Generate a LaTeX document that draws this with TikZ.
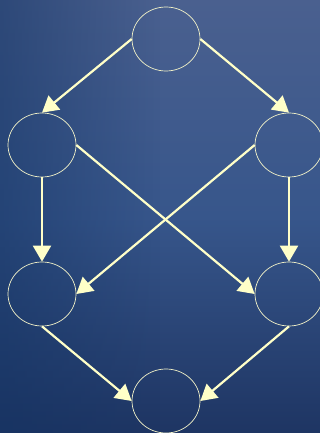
\documentclass[tikz,border=0pt]{standalone}
\usetikzlibrary{shapes.geometric,arrows.meta,fadings}
\definecolor{bgtop}{HTML}{4A608F}
\definecolor{bgmid}{HTML}{37568B}
\definecolor{bgbot}{HTML}{1E3563}
\definecolor{bgdark}{HTML}{123262}
\definecolor{pale}{HTML}{FFFFC8}
\definecolor{ring}{HTML}{F2F2C8}
\tikzfading[name=fadeleft, left color=transparent!50, right color=transparent!100]
\tikzset{
  circ/.style={ellipse, draw=ring, line width=0.7pt, minimum width=68pt, minimum height=64pt, inner sep=0pt},
  conn/.style={draw=pale, line width=2.2pt, -{Triangle[length=16pt,width=18pt,fill=pale]}}
}
\begin{document}
\begin{tikzpicture}[x=1pt,y=-1pt]
\shade[top color=bgtop, bottom color=bgbot, middle color=bgmid] (0,0) rectangle (320,433);
\fill[bgdark, path fading=fadeleft] (0,0) rectangle (160,433);
\useasboundingbox (0,0) rectangle (320,433);
\node[circ] (t) at (166,39) {};
\node[circ] (l) at (42,145) {};
\node[circ] (r) at (289,145) {};
\node[circ] (ll) at (42,294) {};
\node[circ] (lr) at (289,294) {};
\node[circ] (b) at (166,401) {};
\draw[conn] (t.west) -- (l.north);
\draw[conn] (t.east) -- (r.north);
\draw[conn] (l.south) -- (ll.north);
\draw[conn] (r.south) -- (lr.north);
\draw[conn] (l.east) -- (lr.west);
\draw[conn] (r.west) -- (ll.east);
\draw[conn] (ll.south) -- (b.west);
\draw[conn] (lr.south) -- (b.east);
\end{tikzpicture}
\end{document}
